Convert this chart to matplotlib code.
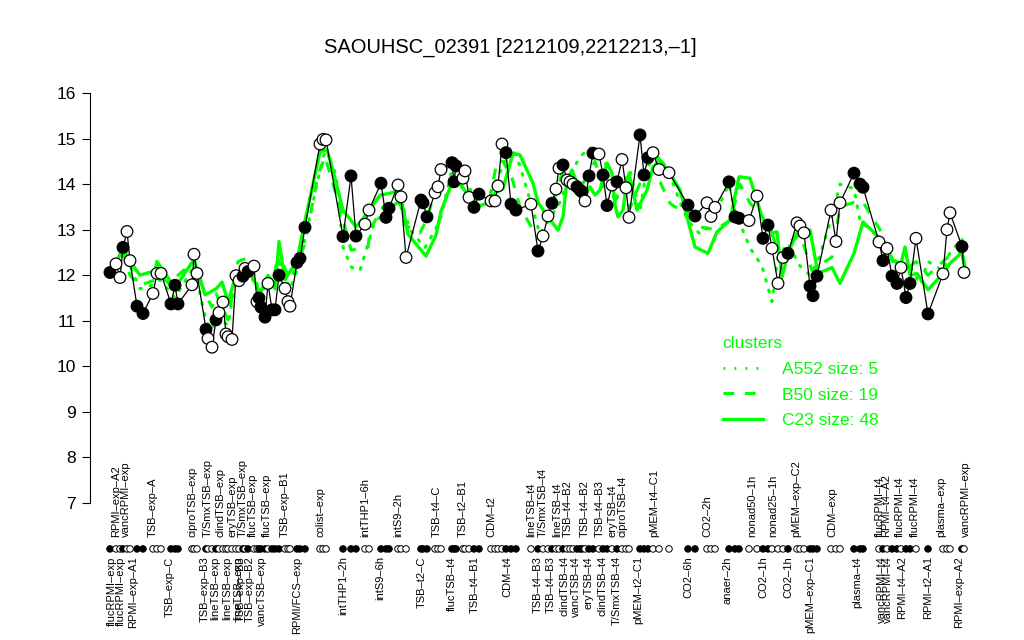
import matplotlib
matplotlib.use("Agg")
import matplotlib.pyplot as plt
from matplotlib.lines import Line2D
from matplotlib.transforms import blended_transform_factory

plt.rcParams["font.family"] = ["Liberation Sans", "DejaVu Sans"]

GREEN = "#00ff00"

# sample positions along the x axis, expression values and marker fill
pos = [0, 6, 10, 13, 17, 20, 27, 33, 43, 47, 51, 61, 65, 68, 82, 84, 87, 96, 98, 102,
       106, 109, 113, 116, 118, 122, 126, 129, 133, 135, 138, 144, 147, 149, 151, 155, 158, 162,
       165, 169, 175, 178, 180, 187, 190, 195, 210, 213, 216, 233, 241, 246, 255, 259, 271,
       276, 279, 288, 291, 296, 311, 313, 317, 325, 328, 331, 342, 344, 346, 353, 355, 359,
       364, 369, 381, 385, 388, 392, 396, 401, 406, 421, 428, 433, 438, 442, 446, 449, 453,
       457, 460, 463, 467, 470, 472, 475, 479, 483, 489, 493, 497, 502, 507, 512, 516, 519,
       530, 534, 538, 543, 549, 559, 578, 585, 597, 601, 605, 619, 625, 629, 639, 647, 653,
       658, 662, 668, 673, 678, 687, 690, 694, 700, 703, 707, 721, 726, 730, 744, 750, 753,
       769, 773, 777, 782, 787, 791, 796, 800, 806, 818, 833, 837, 840, 852, 854]
expr = [12.06, 12.25, 11.95, 12.61, 12.96, 12.32, 11.32, 11.16, 11.60, 12.04, 12.04, 11.37, 11.78,
        11.37, 11.79, 12.46, 12.04, 10.81, 10.61, 10.42, 11.02, 11.18, 11.41, 10.71, 10.65, 10.59,
        11.99, 11.88, 11.98, 12.15, 12.08, 12.20, 11.42, 11.50, 11.30, 11.08, 11.82, 11.24, 11.24,
        12.00, 11.71, 11.42, 11.32, 12.28, 12.37, 13.05, 14.88, 14.98, 14.97, 12.85, 14.18, 12.86,
        13.12, 13.43, 14.02, 13.27, 13.47, 13.98, 13.72, 12.39, 13.65, 13.59, 13.28, 13.81, 13.94,
        14.32, 14.47, 14.05, 14.40, 14.13, 14.29, 13.71, 13.49, 13.78, 13.63, 13.63, 13.96, 14.88,
        14.69, 13.56, 13.43, 13.56, 12.53, 12.86, 13.30, 13.58, 13.89, 14.35, 14.42, 14.09, 14.05,
        14.00, 13.94, 13.87, 13.83, 13.63, 14.18, 14.68, 14.66, 14.20, 13.53, 13.98, 14.05, 14.54,
        13.92, 13.27, 15.08, 14.20, 14.58, 14.69, 14.32, 14.25, 13.54, 13.30, 13.59, 13.29, 13.49,
        14.05, 13.28, 13.25, 13.20, 13.74, 12.81, 13.10, 12.59, 11.82, 12.39, 12.48, 13.15, 13.08,
        12.93, 11.76, 11.55, 11.98, 13.43, 12.74, 13.59, 14.24, 14.00, 13.93, 12.73, 12.32, 12.59,
        11.98, 11.82, 12.17, 11.51, 11.82, 12.81, 11.15, 12.03, 13.00, 13.37, 12.63, 12.06]
# F = filled marker, O = open marker
filled = ("FOOFOOFFOO" "OFFFOOOFOO" "FOOOOOOOFO" "FOOFFFOFFF" "OOOFFFOOOF"
          "FFOOFFFOOO" "FFFOOOFFFO" "OOFFOOOOFF" "FOFOOFOOFO" "OOFFFOFFOF"
          "FOFOOOFFFO" "OOFFOOOFFF" "OOFFOOOFOO" "OFFFOOOFFF" "OFOFFOFFOF" "OOOFO")

# cluster profiles (vertex positions and values)
c23_pos = [0, 13, 20, 30, 45, 47, 65, 84, 95, 106, 112, 118, 126, 138, 150, 158, 165, 169,
           175, 187, 195, 203, 210, 217, 223, 233, 246, 255, 270, 280, 290, 291, 298, 316, 326,
           331, 343, 348, 365, 380, 385, 393, 403, 410, 423, 428, 438, 448, 453, 457, 462, 470,
           475, 480, 485, 490, 497, 502, 505, 508, 513, 516, 519, 527, 537, 543, 550, 560,
           570, 577, 585, 598, 607, 620, 629, 640, 652, 662, 667, 672, 678, 687, 693, 700,
           708, 722, 730, 744, 753, 770, 777, 783, 791, 795, 800, 807, 818, 833, 840, 852, 855]
c23_val = [12.0, 12.6, 12.3, 12.0, 12.1, 12.3, 11.72, 12.35, 11.57, 11.7, 11.85, 11.42, 12.0,
           12.19, 11.6, 12.0, 11.7, 12.74, 11.9, 12.33, 13.2, 14.0, 14.71, 14.75, 14.3, 13.43,
           13.06, 13.3, 13.76, 13.8, 13.87, 13.7, 12.9, 12.42, 12.88, 13.4, 14.09, 14.1, 13.49,
           13.6, 13.8, 13.9, 14.68, 14.64, 14.02, 13.6, 13.28, 12.99, 13.28, 14.09, 14.31, 13.83,
           13.76, 13.94, 13.76, 13.87, 14.46, 14.24, 13.54, 13.28, 13.43, 13.91, 14.24, 13.43,
           13.87, 14.38, 14.53, 14.24, 13.87, 13.28, 12.62, 12.48, 12.95, 13.21, 14.16, 14.13,
           13.28, 12.93, 12.95, 11.96, 12.48, 12.93, 12.95, 12.99, 12.04, 12.17, 11.82, 12.48,
           13.17, 12.81, 12.59, 12.33, 12.26, 12.62, 12.0, 12.04, 11.68, 12.04, 12.26, 12.5, 12.19]
b50_pos = [0, 13, 20, 27, 33, 45, 50, 60, 68, 84, 95, 102, 106, 118, 128, 141, 148, 155,
           162, 170, 180, 187, 195, 208, 215, 223, 230, 241, 258, 260, 273, 280, 290, 295, 310,
           318, 326, 344, 352, 365, 380, 387, 393, 402, 410, 428, 438, 450, 453, 463, 470, 480,
           485, 495, 502, 510, 520, 535, 550, 560, 565, 580, 590, 605, 620, 630, 640, 652, 662,
           667, 673, 678, 690, 702, 708, 722, 730, 744, 753, 770, 777, 785, 795, 806, 818, 833,
           838, 852, 855]
b50_val = [12.1, 12.5, 12.0, 11.82, 11.8, 11.9, 12.0, 11.8, 12.0, 12.3, 11.6, 11.3, 11.6, 11.02,
           12.3, 12.41, 11.7, 11.6, 12.0, 12.4, 11.9, 12.2, 12.7, 14.2, 14.6, 14.0, 13.5, 12.55,
           12.62, 13.0, 13.5, 13.4, 13.6, 13.1, 12.93, 13.28, 14.0, 14.6, 13.9, 13.6, 13.7, 14.5,
           14.5, 14.13, 13.5, 12.8, 13.2, 14.1, 14.3, 14.0, 13.9, 14.3, 14.5, 13.8, 13.4, 14.0,
           13.47, 14.3, 14.05, 13.58, 13.5, 13.36, 13.06, 13.0, 13.2, 14.0, 13.58, 13.3, 12.9,
           12.6, 12.18, 12.7, 12.9, 12.1, 12.2, 12.4, 13.5, 13.6, 13.6, 13.0, 12.6, 12.3, 12.1,
           12.3, 12.0, 12.3, 12.4, 12.5, 12.0]
a552_pos = [0, 13, 20, 30, 45, 50, 65, 84, 96, 102, 106, 118, 126, 138, 150, 158, 169, 180,
            187, 195, 210, 216, 226, 233, 241, 250, 265, 280, 290, 300, 315, 330, 345, 355, 365,
            380, 402, 410, 430, 450, 460, 470, 480, 495, 505, 520, 530, 537, 550, 560, 570, 578,
            590, 600, 619, 625, 640, 652, 662, 668, 678, 690, 700, 708, 722, 730, 744, 750, 770,
            780, 790, 800, 810, 818, 833, 840, 852, 855]
a552_val = [12.0, 12.5, 12.2, 11.7, 11.8, 11.9, 11.5, 12.2, 11.0, 10.8, 11.1, 10.9, 12.0, 12.1,
            11.6, 11.8, 12.3, 11.7, 12.1, 12.8, 14.3, 14.8, 14.2, 12.62, 12.18, 12.1, 13.2, 13.4,
            13.7, 13.0, 12.6, 13.2, 14.6, 14.2, 13.6, 13.8, 14.8, 14.4, 12.9, 13.6, 14.2, 14.6,
            14.8, 14.5, 13.6, 14.3, 13.4, 14.4, 14.6, 14.2, 13.6, 13.2, 12.9, 13.1, 14.0, 13.4,
            12.6, 12.2, 11.42, 12.4, 12.7, 12.2, 12.0, 12.3, 13.3, 14.0, 13.9, 13.2, 12.8, 12.4,
            12.0, 12.2, 11.8, 12.3, 12.1, 12.5, 12.8, 12.0]

cluster_labels = ["A552 size: 5", "B50 size: 19", "C23 size: 48"]

# sample names shown under and above the sample rug
bottom_label_pos = [2, 11, 23, 60, 95, 105, 117, 128, 131, 140, 152, 187, 233, 270, 312, 342,
                    365, 397, 428, 441, 454, 466, 479, 493, 507, 528, 578, 618, 653, 678, 700,
                    747, 772, 778, 792, 818, 849]
bottom_labels = ["flucRPMI-exp", "flucRPMI-exp", "RPMI-exp-A1", "TSB-exp-C", "TSB-exp-B3",
                 "lineTSB-exp", "lineTSB-exp", "lineTSB-exp", "TSB-exp-B3", "TSB-exp-B2",
                 "vancTSB-exp", "RPMI/FCS-exp", "intTHP1-2h", "intS9-6h", "TSB-t2-C",
                 "flucTSB-t4", "TSB-t4-B1", "CDM-t4", "TSB-t4-B3", "TSB-t4-B3", "clindTSB-t4",
                 "vancTSB-t4", "eryTSB-t4", "clindTSB-t4", "T/SmxTSB-t4", "pMEM-t2-C1",
                 "CO2-6h", "anaer-2h", "CO2-1h", "CO2-1h", "pMEM-exp-C1", "plasma-t4",
                 "vancRPMI-t4", "vancRPMI-t4", "RPMI-t4-A2", "RPMI-t2-A1", "RPMI-exp-A2"]
top_label_pos = [6, 16, 43, 82, 98, 110, 122, 133, 143, 157, 175, 211, 255, 288, 327, 353,
                 381, 421, 433, 447, 458, 475, 490, 502, 513, 544, 597, 642, 663, 686, 722,
                 770, 776, 790, 805, 831, 856]
top_labels = ["RPMI-exp-A2", "vancRPMI-exp", "TSB-exp-A", "ciproTSB-exp", "T/SmxTSB-exp",
              "clindTSB-exp", "eryTSB-exp", "T/SmxTSB-exp", "flucTSB-exp", "flucTSB-exp",
              "TSB-exp-B1", "colist-exp", "intTHP1-6h", "intS9-2h", "TSB-t4-C", "TSB-t2-B1",
              "CDM-t2", "lineTSB-t4", "T/SmxTSB-t4", "lineTSB-t4", "TSB-t4-B2", "TSB-t4-B2",
              "TSB-t4-B3", "eryTSB-t4", "ciproTSB-t4", "pMEM-t4-C1", "CO2-2h", "nonad50-1h",
              "nonad25-1h", "pMEM-exp-C2", "CDM-exp", "flucRPMI-t4", "RPMI-t4-A2",
              "flucRPMI-t4", "flucRPMI-t4", "plasma-exp", "vancRPMI-exp"]


def dash(s):
    return s.replace("-", "\u2013")


fig = plt.figure(figsize=(10.24, 6.4), dpi=100)
ax = fig.add_axes([90 / 1024, 137 / 640, 895 / 1024, 410 / 640])

ax.plot(a552_pos, a552_val, color=GREEN, lw=2.2, linestyle=(0, (0.6, 3.0)),
        dash_capstyle="round")
ax.plot(b50_pos, b50_val, color=GREEN, lw=2.2, linestyle=(0, (3.5, 3.5)))
ax.plot(c23_pos, c23_val, color=GREEN, lw=2.4)

ax.plot(pos, expr, color="black", lw=0.9, zorder=3)
face = ["black" if f == "F" else "white" for f in filled]
ax.scatter(pos, expr, s=70, c=face, edgecolors="black", linewidths=0.9, zorder=4)

# sample rug below the axis
rug = blended_transform_factory(ax.transData, ax.transAxes)
ax.scatter(pos, [-0.112] * len(pos), s=22, c=face, edgecolors="black", linewidths=0.7,
           transform=rug, clip_on=False, zorder=4)

for p, lab in zip(bottom_label_pos, bottom_labels):
    ax.text(p, -0.13, dash(lab), transform=rug, rotation=90, ha="center", va="top",
            fontsize=8.0)
for p, lab in zip(top_label_pos, top_labels):
    ax.text(p, -0.084, dash(lab), transform=rug, rotation=90, ha="center", va="bottom",
            fontsize=8.0)

ax.set_xlim(-20, 875)
ax.set_ylim(7, 16)
ax.set_yticks(range(7, 17))
ax.tick_params(axis="y", labelsize=12.5, length=6, width=0.8, pad=4)
ax.set_xticks([])
for side in ["top", "right", "bottom"]:
    ax.spines[side].set_visible(False)
ax.spines["left"].set_linewidth(0.8)

fig.text(510 / 1024, 1 - 47 / 640, dash("SAOUHSC_02391 [2212109,2212213,-1]"),
         ha="center", va="center", fontsize=14.5)

handles = [Line2D([], [], color=GREEN, lw=2.2, linestyle=(0, (0.6, 3.0))),
           Line2D([], [], color=GREEN, lw=2.2, linestyle=(0, (3.5, 3.5))),
           Line2D([], [], color=GREEN, lw=2.4)]
leg = fig.legend(handles, cluster_labels, title="clusters", loc="upper left",
                 bbox_to_anchor=(714 / 1024, 1 - 327 / 640), frameon=False,
                 fontsize=12.5, title_fontsize=12.5, handlelength=2.3, handletextpad=1.1,
                 labelspacing=0.62, borderpad=0, alignment="left", labelcolor=GREEN)
leg.get_title().set_color(GREEN)

fig.savefig("out.png", dpi=100)
